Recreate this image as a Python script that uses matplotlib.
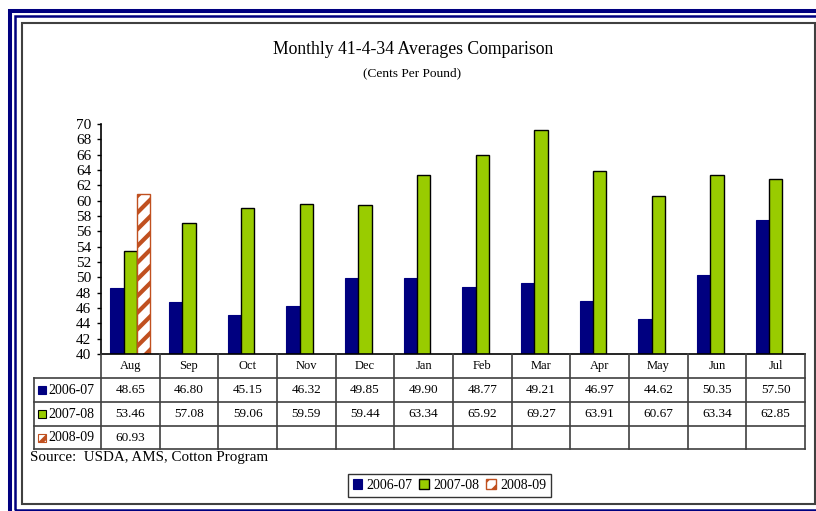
import matplotlib
matplotlib.use("Agg")
import matplotlib.pyplot as plt
from matplotlib.patches import Rectangle
from matplotlib.lines import Line2D
from matplotlib.transforms import blended_transform_factory
import numpy as np

# data
months = ['Aug', 'Sep', 'Oct', 'Nov', 'Dec', 'Jan', 'Feb', 'Mar', 'Apr', 'May', 'Jun', 'Jul']
s0607 = [48.65, 46.80, 45.15, 46.32, 49.85, 49.90, 48.77, 49.21, 46.97, 44.62, 50.35, 57.50]
s0708 = [53.46, 57.08, 59.06, 59.59, 59.44, 63.34, 65.92, 69.27, 63.91, 60.67, 63.34, 62.85]
s0809 = [60.93]
labels = ['2006-07', '2007-08', '2008-09']
yticks = list(range(40, 71, 2))

navy = '#000080'
green = '#99CC00'
rust = '#C0501F'

plt.rcParams['font.family'] = ['Liberation Serif', 'DejaVu Serif']
plt.rcParams['hatch.linewidth'] = 3.0

W, H = 816, 511
fig = plt.figure(figsize=(W / 100, H / 100), dpi=100)


def fx(px):
    return px / W


def fy(py):
    return 1 - py / H


# frames
fig.add_artist(Rectangle((fx(10), fy(530)), fx(830) - fx(10), fy(11.5) - fy(530),
                         transform=fig.transFigure, fill=False, ec=navy, lw=2.9))
fig.add_artist(Rectangle((fx(14.5), fy(509.5)), fx(825) - fx(14.5), fy(16.3) - fy(509.5),
                         transform=fig.transFigure, fill=False, ec=navy, lw=1.8))
fig.add_artist(Rectangle((fx(21.5), fy(503.5)), fx(815) - fx(21.5), fy(23) - fy(503.5),
                         transform=fig.transFigure, fill=False, ec='#404040', lw=1.5))

fig.text(fx(413), fy(50), 'Monthly 41-4-34 Averages Comparison', ha='center', va='center', fontsize=12.7)
fig.text(fx(412), fy(73), '(Cents Per Pound)', ha='center', va='center', fontsize=9.6)

ax_l, ax_r, ax_t, ax_b = 101, 805, 124, 354
ax = fig.add_axes([fx(ax_l), fy(ax_b), fx(ax_r) - fx(ax_l), (ax_b - ax_t) / H])

x = np.arange(len(months))
w = 0.227
b1 = ax.bar(x - w, s0607, w, color=navy, edgecolor=navy, lw=0.8, label=labels[0])
b2 = ax.bar(x, s0708, w, color=green, edgecolor='black', lw=1.0, label=labels[1])
x3 = np.arange(len(s0809))
b3 = ax.bar(x3 + w, s0809, w, color='white', edgecolor=rust, hatch='//', lw=1.0, label=labels[2])

ax.set_xlim(-0.5, len(months) - 0.5)
ax.set_ylim(40, 70)
ax.set_yticks(yticks)
ax.set_yticklabels([str(t) for t in yticks], fontsize=11)
ax.tick_params(axis='y', direction='out', length=3, width=1, pad=4)
ax.set_xticks([])
for s in ['top', 'right']:
    ax.spines[s].set_visible(False)
ax.spines['left'].set_linewidth(1.2)
ax.spines['bottom'].set_linewidth(1.2)

# data table under the axis
tr = blended_transform_factory(ax.transData, fig.transFigure)
rows = [354, 378, 402, 426, 449]
lab_px = 34
lab_x = -0.5 + (lab_px - ax_l) / ((ax_r - ax_l) / len(months))
right_x = len(months) - 0.5
lc = '#404040'

for r in rows[1:]:
    fig.add_artist(Line2D([lab_x, right_x], [fy(r), fy(r)], transform=tr, color=lc, lw=1.2))
for i in range(len(months) + 1):
    xb = i - 0.5
    fig.add_artist(Line2D([xb, xb], [fy(rows[0]), fy(rows[-1])], transform=tr, color=lc, lw=1.2))
fig.add_artist(Line2D([lab_x, lab_x], [fy(rows[1]), fy(rows[-1])], transform=tr, color=lc, lw=1.2))

for i, m in enumerate(months):
    fig.text(i, fy((rows[0] + rows[1]) / 2), m, transform=tr, ha='center', va='center', fontsize=9)

series = [s0607, s0708, s0809]
for k, vals in enumerate(series):
    yc = fy((rows[k + 1] + rows[k + 2]) / 2)
    for i, v in enumerate(vals):
        fig.text(i, yc, '%.2f' % v, transform=tr, ha='center', va='center', fontsize=9.5)

# row labels with swatches
sw_styles = [dict(fc=navy, ec=navy), dict(fc=green, ec='black'), dict(fc='white', ec=rust, hatch='//')]
for k, lab in enumerate(labels):
    ymid = (rows[k + 1] + rows[k + 2]) / 2
    fig.add_artist(Rectangle((fx(37.5), fy(ymid + 4)), fx(8) - fx(0), 8 / H,
                             transform=fig.transFigure, lw=0.8, **sw_styles[k]))
    fig.text(fx(48), fy(ymid), lab, ha='left', va='center', fontsize=10)

fig.text(fx(30), fy(458), 'Source:  USDA, AMS, Cotton Program', ha='left', va='center', fontsize=10.8)

leg = fig.legend([b1, b2, b3], labels, loc='center', bbox_to_anchor=(fx(449.5), fy(485.5)),
                 ncol=3, fontsize=10, frameon=True, fancybox=False, edgecolor='black',
                 handlelength=0.7, handleheight=0.7, handletextpad=0.3, columnspacing=0.5,
                 borderpad=0.35, borderaxespad=0)
leg.get_frame().set_linewidth(1.0)

fig.savefig('out.png', dpi=100)
